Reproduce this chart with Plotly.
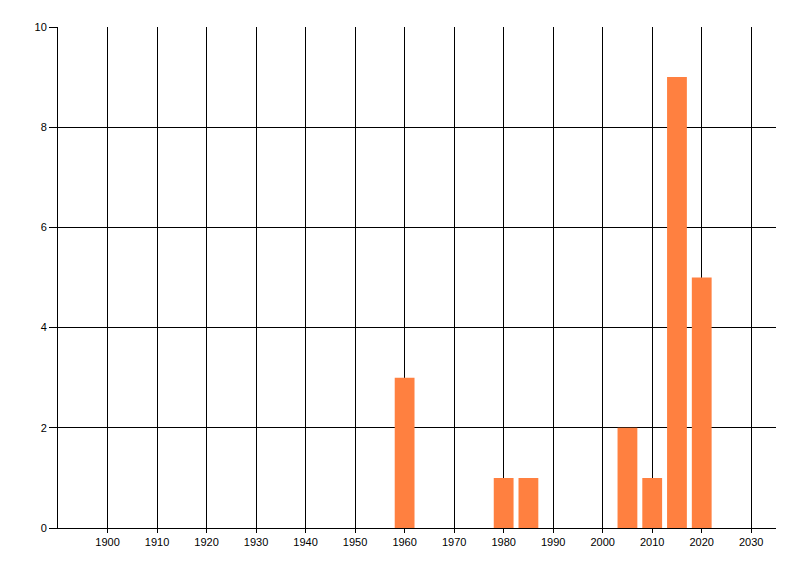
import plotly.graph_objects as go

years = [1960, 1980, 1985, 2005, 2010, 2015, 2020]
counts = [3, 1, 1, 2, 1, 9, 5]
x_ticks = list(range(1900, 2031, 10))
y_ticks = [0, 2, 4, 6, 8, 10]

fig = go.Figure(go.Bar(
    x=years, y=counts, width=4,
    marker=dict(color="#FF8040", line=dict(width=0)),
))

font = dict(family="Liberation Sans, Arial, sans-serif", size=11, color="#000000")

# page body has an 8px margin, so the figure is 784x560 and sits at (8, 8)
fig.update_layout(
    width=784, height=560,
    margin=dict(l=50, r=16, t=19, b=40),
    plot_bgcolor="white", paper_bgcolor="white",
    showlegend=False,
    font=font,
    xaxis=dict(
        range=[1890, 2035], tickvals=x_ticks, ticktext=[str(v) for v in x_ticks],
        showgrid=True, gridcolor="black", gridwidth=1,
        showline=True, linecolor="black", linewidth=1,
        ticks="outside", ticklen=4, tickcolor="black",
        zeroline=False, tickfont=font,
    ),
    yaxis=dict(
        range=[0, 10], tickvals=y_ticks,
        showgrid=True, gridcolor="black", gridwidth=1,
        showline=True, linecolor="black", linewidth=1,
        ticks="outside", ticklen=8, tickcolor="black",
        zeroline=False, tickfont=font,
    ),
)

fig.write_html("out.html")
